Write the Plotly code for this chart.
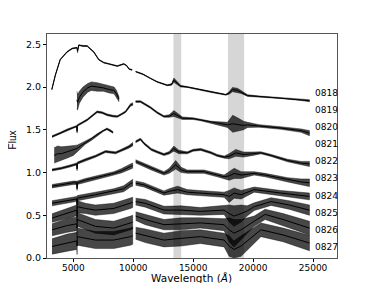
import plotly.graph_objects as go

# ---------------- data ----------------
names = ["0818", "0819", "0820", "0821", "0822", "0823", "0824", "0825", "0826", "0827"]
label_y = [1.93, 1.73, 1.53, 1.33, 1.13, 0.93, 0.73, 0.53, 0.33, 0.13]
x_ticks = [5000, 10000, 15000, 20000, 25000]
y_ticks = [0.0, 0.5, 1.0, 1.5, 2.0, 2.5]
telluric_bands = [(13350, 14000), (17900, 19250)]

# 0818
wl_0818_vis = [3200, 3500, 3900, 4470, 4890, 5300, 5350, 5450, 5800, 6150, 6700, 7120, 7540, 8000, 8660, 9000, 9210, 9450, 9650, 9900]
fx_0818_vis = [1.97, 2.14, 2.32, 2.41, 2.45, 2.46, 2.42, 2.49, 2.48, 2.48, 2.41, 2.32, 2.285, 2.27, 2.245, 2.26, 2.27, 2.25, 2.21, 2.20]
nz_0818_vis = [0.005, 0.005, 0.005, 0.005, 0.005, 0.005, 0.02, 0.005, 0.005, 0.005, 0.005, 0.005, 0.005, 0.005, 0.005, 0.005, 0.005, 0.005, 0.005, 0.005]
wl_0818_nir = [10200, 10800, 11440, 12000, 12840, 13200, 13390, 13700, 13950, 14500, 15630, 16500, 17720, 18000, 18280, 18700, 19000, 19540, 20500, 22320, 24000, 24700]
fx_0818_nir = [2.18, 2.15, 2.10, 2.06, 2.02, 2.03, 2.08, 2.04, 2.01, 2.00, 1.97, 1.94, 1.91, 1.93, 1.97, 1.96, 1.94, 1.90, 1.89, 1.87, 1.85, 1.84]
nz_0818_nir = [0.005, 0.005, 0.005, 0.005, 0.005, 0.01, 0.025, 0.015, 0.01, 0.005, 0.005, 0.005, 0.005, 0.015, 0.025, 0.025, 0.015, 0.01, 0.005, 0.005, 0.008, 0.012]

# 0819
wl_0819_vis = [5300, 5350, 5500, 5800, 6200, 6500, 7000, 7500, 8000, 8400, 8600, 8800]
fx_0819_vis = [1.85, 1.82, 1.88, 1.94, 1.99, 2.01, 2.00, 1.99, 1.97, 1.96, 1.92, 1.86]
nz_0819_vis = [0.10, 0.09, 0.07, 0.06, 0.05, 0.05, 0.05, 0.04, 0.04, 0.04, 0.04, 0.03]

# 0820
wl_0820_vis = [3220, 3600, 3900, 4500, 5200, 5290, 5310, 5330, 6150, 6980, 7400, 7820, 8300, 8660, 9000, 9350, 9770, 9950]
fx_0820_vis = [1.42, 1.44, 1.46, 1.50, 1.54, 1.54, 1.48, 1.55, 1.615, 1.71, 1.70, 1.675, 1.66, 1.655, 1.68, 1.71, 1.79, 1.80]
nz_0820_vis = [0.01, 0.01, 0.01, 0.01, 0.01, 0.01, 0.02, 0.01, 0.01, 0.01, 0.01, 0.01, 0.01, 0.01, 0.01, 0.01, 0.015, 0.015]
wl_0820_nir = [10200, 10600, 11440, 12000, 12560, 13000, 13390, 14100, 15000, 15630, 16500, 17860, 18300, 18700, 19200, 19540, 20500, 22320, 24000, 24700]
fx_0820_nir = [1.83, 1.83, 1.76, 1.70, 1.655, 1.66, 1.69, 1.635, 1.63, 1.615, 1.59, 1.557, 1.57, 1.56, 1.55, 1.557, 1.545, 1.52, 1.49, 1.46]
nz_0820_nir = [0.01, 0.01, 0.01, 0.01, 0.01, 0.015, 0.035, 0.015, 0.01, 0.01, 0.01, 0.03, 0.10, 0.08, 0.05, 0.03, 0.015, 0.015, 0.02, 0.03]

# 0821
wl_0821_vis = [3400, 3700, 4000, 4500, 5000, 5300, 5600, 6000, 6500, 7000, 7500, 7800, 8100, 8300]
fx_0821_vis = [1.20, 1.22, 1.22, 1.24, 1.26, 1.28, 1.31, 1.35, 1.39, 1.44, 1.49, 1.51, 1.49, 1.47]
nz_0821_vis = [0.09, 0.09, 0.08, 0.07, 0.06, 0.04, 0.03, 0.02, 0.015, 0.015, 0.01, 0.01, 0.01, 0.01]

# 0822
wl_0822_vis = [3220, 4000, 4800, 5290, 5310, 5330, 6000, 6840, 7680, 8000, 8520, 9000, 9630, 9950]
fx_0822_vis = [1.03, 1.05, 1.08, 1.10, 1.04, 1.11, 1.15, 1.19, 1.245, 1.24, 1.23, 1.26, 1.30, 1.33]
nz_0822_vis = [0.012, 0.012, 0.012, 0.012, 0.02, 0.012, 0.012, 0.012, 0.012, 0.012, 0.012, 0.012, 0.015, 0.02]
wl_0822_nir = [10200, 10600, 10900, 11500, 12000, 12560, 13000, 13390, 13800, 14500, 15000, 15630, 16500, 17000, 17600, 18000, 18550, 19200, 20000, 20650, 21500, 22880, 24000, 24700]
fx_0822_nir = [1.36, 1.39, 1.34, 1.27, 1.24, 1.21, 1.23, 1.28, 1.24, 1.23, 1.26, 1.27, 1.23, 1.20, 1.18, 1.19, 1.23, 1.21, 1.22, 1.23, 1.20, 1.14, 1.11, 1.10]
nz_0822_nir = [0.012, 0.012, 0.012, 0.012, 0.012, 0.012, 0.015, 0.03, 0.02, 0.012, 0.012, 0.012, 0.012, 0.012, 0.012, 0.03, 0.04, 0.03, 0.02, 0.012, 0.012, 0.015, 0.02, 0.03]

# 0823
wl_0823_vis = [3220, 4000, 5000, 5290, 5310, 5330, 6000, 6840, 7500, 8370, 9000, 9770, 9950]
fx_0823_vis = [0.84, 0.86, 0.88, 0.88, 0.81, 0.88, 0.91, 0.935, 0.96, 0.99, 1.02, 1.07, 1.08]
nz_0823_vis = [0.02, 0.02, 0.02, 0.02, 0.02, 0.02, 0.02, 0.02, 0.02, 0.02, 0.025, 0.03, 0.03]
wl_0823_nir = [10200, 10880, 11500, 12560, 13000, 13540, 14000, 14510, 15900, 17000, 17580, 18000, 18420, 19000, 20090, 21000, 22880, 24000, 24700]
fx_0823_nir = [1.13, 1.09, 1.05, 0.99, 1.02, 1.09, 1.03, 1.01, 1.01, 0.97, 0.95, 0.96, 0.99, 0.97, 0.99, 0.97, 0.915, 0.89, 0.88]
nz_0823_nir = [0.02, 0.02, 0.02, 0.02, 0.03, 0.05, 0.03, 0.02, 0.02, 0.02, 0.02, 0.05, 0.06, 0.04, 0.02, 0.02, 0.025, 0.035, 0.045]

# 0824
wl_0824_vis = [3220, 4500, 5200, 5290, 5310, 5330, 6840, 8370, 9200, 9770, 9950]
fx_0824_vis = [0.64, 0.67, 0.69, 0.69, 0.62, 0.70, 0.74, 0.78, 0.81, 0.87, 0.88]
nz_0824_vis = [0.03, 0.03, 0.03, 0.03, 0.03, 0.03, 0.03, 0.03, 0.035, 0.04, 0.04]
wl_0824_nir = [10200, 10880, 12560, 13000, 13700, 14500, 15500, 17580, 18000, 18420, 19000, 20090, 22300, 24700]
fx_0824_nir = [0.876, 0.856, 0.76, 0.78, 0.80, 0.77, 0.76, 0.74, 0.72, 0.76, 0.74, 0.80, 0.76, 0.72]
nz_0824_nir = [0.025, 0.025, 0.025, 0.03, 0.04, 0.03, 0.03, 0.03, 0.07, 0.06, 0.05, 0.03, 0.03, 0.04]

# 0825
wl_0825_vis = [3220, 4000, 5000, 5290, 5310, 5330, 6000, 6840, 8370, 9770, 9950]
fx_0825_vis = [0.467, 0.50, 0.54, 0.56, 0.48, 0.60, 0.58, 0.56, 0.58, 0.64, 0.65]
nz_0825_vis = [0.05, 0.055, 0.06, 0.06, 0.06, 0.07, 0.06, 0.06, 0.06, 0.06, 0.06]
wl_0825_nir = [10200, 11000, 12560, 14000, 15600, 17580, 18000, 18400, 19000, 19500, 20090, 21500, 23000, 24700]
fx_0825_nir = [0.66, 0.64, 0.56, 0.56, 0.545, 0.56, 0.52, 0.49, 0.52, 0.55, 0.60, 0.66, 0.62, 0.56]
nz_0825_nir = [0.04, 0.045, 0.045, 0.05, 0.045, 0.05, 0.10, 0.12, 0.10, 0.06, 0.045, 0.045, 0.05, 0.06]

# 0826
wl_0826_vis = [3220, 4500, 5290, 5310, 5330, 6840, 8370, 9770, 9950]
fx_0826_vis = [0.33, 0.38, 0.40, 0.35, 0.45, 0.37, 0.35, 0.41, 0.42]
nz_0826_vis = [0.07, 0.08, 0.08, 0.08, 0.08, 0.08, 0.08, 0.08, 0.08]
wl_0826_nir = [10200, 11000, 12560, 14000, 15600, 17580, 18000, 18400, 19000, 20090, 21000, 22500, 24700]
fx_0826_nir = [0.49, 0.45, 0.39, 0.40, 0.41, 0.39, 0.33, 0.29, 0.33, 0.43, 0.51, 0.45, 0.35]
nz_0826_nir = [0.05, 0.06, 0.06, 0.07, 0.06, 0.07, 0.14, 0.16, 0.12, 0.06, 0.06, 0.07, 0.08]

# 0827
wl_0827_vis = [3220, 4500, 5290, 5310, 5330, 6840, 8370, 9770, 9950]
fx_0827_vis = [0.135, 0.18, 0.20, 0.14, 0.25, 0.21, 0.21, 0.25, 0.26]
nz_0827_vis = [0.09, 0.10, 0.10, 0.10, 0.10, 0.10, 0.10, 0.10, 0.10]
wl_0827_nir = [10200, 11000, 12560, 14000, 15600, 17580, 18000, 18400, 19000, 20650, 22500, 24700]
fx_0827_nir = [0.29, 0.26, 0.21, 0.23, 0.25, 0.21, 0.14, 0.10, 0.14, 0.33, 0.27, 0.175]
nz_0827_nir = [0.07, 0.08, 0.08, 0.09, 0.08, 0.08, 0.12, 0.10, 0.12, 0.08, 0.08, 0.09]

segments = [
    (wl_0818_vis, fx_0818_vis, nz_0818_vis), (wl_0818_nir, fx_0818_nir, nz_0818_nir),
    (wl_0819_vis, fx_0819_vis, nz_0819_vis),
    (wl_0820_vis, fx_0820_vis, nz_0820_vis), (wl_0820_nir, fx_0820_nir, nz_0820_nir),
    (wl_0821_vis, fx_0821_vis, nz_0821_vis),
    (wl_0822_vis, fx_0822_vis, nz_0822_vis), (wl_0822_nir, fx_0822_nir, nz_0822_nir),
    (wl_0823_vis, fx_0823_vis, nz_0823_vis), (wl_0823_nir, fx_0823_nir, nz_0823_nir),
    (wl_0824_vis, fx_0824_vis, nz_0824_vis), (wl_0824_nir, fx_0824_nir, nz_0824_nir),
    (wl_0825_vis, fx_0825_vis, nz_0825_vis), (wl_0825_nir, fx_0825_nir, nz_0825_nir),
    (wl_0826_vis, fx_0826_vis, nz_0826_vis), (wl_0826_nir, fx_0826_nir, nz_0826_nir),
    (wl_0827_vis, fx_0827_vis, nz_0827_vis), (wl_0827_nir, fx_0827_nir, nz_0827_nir),
]

# ---------------- figure ----------------
# The page body has an 8px default margin; the figure is sized so that the
# plot area lands where the reference has it inside the 374x291 window.
fig = go.Figure()

for wl, fx, nz in segments:
    upper = [f + n for f, n in zip(fx, nz)]
    lower = [f - n for f, n in zip(fx, nz)]
    fig.add_trace(go.Scatter(
        x=wl + wl[::-1], y=upper + lower[::-1],
        fill="toself", fillcolor="rgba(0,0,0,0.72)",
        line=dict(color="rgba(0,0,0,0.8)", width=0.5),
        mode="lines", hoverinfo="skip", showlegend=False))
    fig.add_trace(go.Scatter(
        x=wl, y=fx, mode="lines",
        line=dict(color="black", width=1),
        showlegend=False))

for x0, x1 in telluric_bands:
    fig.add_vrect(x0=x0, x1=x1, fillcolor="#d6d6d6", opacity=1.0,
                  line_width=0, layer="below")

for name, yv in zip(names, label_y):
    fig.add_annotation(x=25000, y=yv, text=name, showarrow=False,
                       xanchor="left", yanchor="middle", xref="x", yref="y",
                       font=dict(family="DejaVu Sans", size=9, color="black"))

# axis titles as annotations for exact placement
fig.add_annotation(x=0.498, y=-0.09, xref="paper", yref="paper",
                   text="Wavelength (<i>Å</i>)", showarrow=False,
                   xanchor="center", yanchor="middle",
                   font=dict(family="DejaVu Sans", size=10.5, color="black"))
fig.add_annotation(x=-0.119, y=0.527, xref="paper", yref="paper",
                   text="Flux", showarrow=False, textangle=-90,
                   xanchor="center", yanchor="middle",
                   font=dict(family="Liberation Sans Narrow, Liberation Sans", size=10, color="black"))

fig.update_layout(
    width=366, height=275,
    margin=dict(l=39, r=37, t=26, b=25, autoexpand=False),
    paper_bgcolor="white", plot_bgcolor="white",
    font=dict(family="DejaVu Sans", size=9.5, color="black"),
)
fig.update_xaxes(
    range=[2800, 27000], tickvals=x_ticks, ticktext=[str(v) for v in x_ticks],
    ticks="outside", ticklen=3, tickcolor="black", showgrid=False, zeroline=False,
    showline=True, linecolor="#555555", linewidth=1, mirror=True, automargin=False,
    tickfont=dict(size=9), ticklabelstandoff=-2,
)
fig.update_yaxes(
    range=[0, 2.62], tickvals=y_ticks, ticktext=["%.1f" % v for v in y_ticks],
    ticks="outside", ticklen=3, tickcolor="black", showgrid=False, zeroline=False,
    showline=True, linecolor="#555555", linewidth=1, mirror=True, automargin=False,
    tickfont=dict(size=9.5),
)

fig.write_html("out.html")
